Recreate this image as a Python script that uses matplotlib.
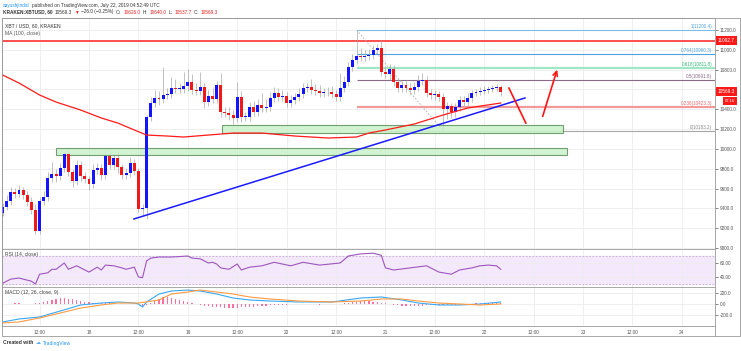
import numpy as np
import matplotlib
matplotlib.use('Agg')
import matplotlib.pyplot as plt
from matplotlib import transforms
from matplotlib.patches import Rectangle

plt.rcParams['font.family'] = ['Liberation Sans', 'DejaVu Sans']

# hourly XBT/USD candles, 17th 03:00 -> 22nd 04:00 (hours relative to 18th 00:00)
first_hour = -21
first_open = 9353
closes = [9414, 9474, 9565, 9545, 9585, 9535, 9464, 9383, 9172, 9474,
          9515, 9706, 9747, 9726, 9807, 9948, 9767, 9676, 9837, 9726,
          9696, 9646, 9787, 9807, 9737, 9928, 9837, 9908, 9817, 9737,
          9757, 9858, 9777, 9394, 9404, 10322, 10463, 10514, 10503, 10544,
          10550, 10614, 10604, 10606, 10635, 10675, 10594, 10584, 10625, 10473,
          10534, 10503, 10645, 10372, 10362, 10342, 10312, 10524, 10322, 10325,
          10423, 10372, 10443, 10413, 10420, 10514, 10564, 10524, 10534, 10463,
          10493, 10524, 10554, 10614, 10625, 10594, 10584, 10564, 10574, 10570,
          10555, 10524, 10614, 10675, 10826, 10897, 10937, 10930, 10940, 10947,
          10998, 11018, 10776, 10756, 10806, 10675, 10614, 10645, 10614, 10594,
          10625, 10685, 10695, 10564, 10544, 10554, 10524, 10402, 10433, 10372,
          10423, 10493, 10473, 10514, 10564, 10574, 10584, 10594, 10604, 10614,
          10626, 10569.3]
upper_wick = [40, 60, 50, 40, 50, 30, 40, 50, 60, 40,
              60, 60, 120, 50, 50, 20, 40, 30, 50, 40,
              40, 30, 60, 50, 40, 40, 50, 40, 60, 30,
              50, 60, 40, 30, 40, 20, 60, 80, 70, 280,
              60, 110, 90, 60, 140, 130, 80, 70, 150, 40,
              60, 80, 40, 120, 50, 60, 50, 150, 60, 50,
              50, 60, 60, 120, 80, 60, 60, 50, 60, 40,
              50, 40, 60, 50, 40, 80, 60, 60, 40, 50,
              60, 40, 150, 60, 50, 60, 263.4, 80, 60, 60,
              50, 40, 81, 60, 50, 40, 40, 40, 40, 50,
              50, 60, 70, 40, 40, 40, 30, 40, 40, 30,
              40, 40, 40, 50, 30, 30, 40, 40, 30, 30, 30, 14]
lower_wick = [30, 30, 40, 40, 30, 40, 40, 40, 30, 30,
              40, 40, 40, 60, 40, 40, 40, 60, 40, 50,
              40, 60, 40, 40, 50, 40, 40, 40, 60, 40,
              40, 40, 40, 30, 70, 110, 40, 40, 60, 40,
              40, 40, 40, 40, 40, 50, 40, 40, 40, 60,
              40, 40, 40, 50, 40, 50, 60, 40, 50, 40,
              40, 40, 40, 40, 40, 40, 40, 40, 40, 40,
              40, 40, 40, 40, 40, 40, 40, 40, 40, 40,
              40, 40, 40, 40, 40, 40, 40, 40, 40, 40,
              40, 40, 40, 40, 60, 40, 40, 40, 40, 40,
              40, 40, 40, 40, 40, 50, 40, 218.8, 100, 60,
              50, 40, 40, 40, 40, 30, 30, 30, 30, 30, 30, 31.6]

# MA(100, close)
ma_hours = [-21, -17, -12, -8, -2, 3, 7, 11, 14, 19, 23, 29, 35, 42, 50, 58, 65, 68, 72, 79, 86, 92, 100]
ma_values = [10746, 10665, 10544, 10473, 10392, 10312, 10261, 10191, 10140, 10130, 10120, 10140,
             10160, 10160, 10130, 10110, 10120, 10160, 10191, 10251, 10342, 10413, 10463]

# RSI(14)
rsi_hours = [-21, -19, -17, -14, -13, -12, -10, -9, -8, -6, -5, -3, -1, 0, 2, 3, 4, 6, 8, 9,
             11, 12, 13, 14, 15, 17, 20, 24, 25, 27, 29, 30, 31, 32, 34, 36, 37, 39,
             42, 45, 49, 52, 56, 61, 63, 66, 69, 71, 72, 74, 78, 82, 85, 88, 90, 93, 95, 97, 99, 100]
rsi_values = [31, 37, 38.5, 34, 30, 44, 46, 51, 51, 60, 51, 56, 50, 47, 54, 50, 57, 56, 53, 51,
              54, 40, 39, 63, 67, 68.5, 68.5, 70, 67, 66, 60, 61, 58.6, 53, 51, 58.6, 50, 54,
              56, 61, 56, 61, 57, 60, 70, 73, 74, 71, 53, 50, 53, 56, 47, 44, 50, 53, 56, 57, 56, 51]

# MACD(12, 26, close, 9)
macd_hours = [-21, -17, -12, -7, -2, 3, 7, 11, 12, 13, 14, 17, 20, 24, 27, 31, 35, 39, 44, 51,
              59, 66, 71, 76, 80, 85, 90, 95, 100]
macd_values = [-313, -261, -226, -122, -17, 17, 35, 17, 0, -52, 35, 174, 226, 243, 226, 174, 104,
               70, 52, 35, 35, 104, 122, 70, 17, -17, -17, 0, 35]
signal_hours = [-21, -17, -12, -7, -2, 3, 7, 12, 17, 20, 24, 27, 31, 35, 39, 44, 51, 59, 66, 71,
                76, 80, 85, 90, 95, 100]
signal_values = [-330, -313, -243, -157, -70, -17, 17, 17, 70, 174, 209, 243, 209, 174, 122, 87,
                 52, 35, 52, 87, 87, 52, 17, 0, -17, 0]
hist_values = [5, 5, 8, 10, 10, 8, 5, 5, 10, 20,
               35, 55, 75, 90, 100, 100, 95, 85, 70, 55, 40, 30,
               25, 20, 18, 15, 12, 10, 8, 5, 5, 3, 0, -5,
               -30, -20,
               20, 55, 90, 115, 120, 110, 95, 75, 55, 30,
               10, -5, -20, -30, -40, -50, -55, -60, -65, -70, -70, -65, -60, -55, -50,
               -45, -40, -35, -30, -25, -20, -15, -12, -10, -8, -5, -3, 0, -3, -5, -8, -10, -8, -5, -2, 3, 8,
               15, 25, 35, 42, 48, 50, 48, 42, 35, 25, 10,
               -5, -15, -25, -30, -35, -35, -35, -30, -30, -25, -25, -25, -20, -20, -20, -15, -15, -10,
               -5, 0, 5, 10, 15, 15, 20, 20, 20, 15]

# drawings
resistance = 11092.7
fib_high, fib_low = 11200.4, 10183.2
fib_start, fib_end = 65, 86
fib_ratios = [1, 0.764, 0.618, 0.5, 0.236, 0]
fib_colors = ['#7cbde6', '#4da3dc', '#9fe6c4', '#8a6a85', '#f29a9a', '#a6a6a6']
fib_text = ['#4da3dc', '#4da3dc', '#30b878', '#8a6a85', '#e06a6a', '#8a8a8a']
trend_line = ([10.9, 105.9], [9293, 10514])
zones = [(32.3, 115.1, 10160, 10241), (-8.0, 116.1, 9938, 10009)]
arrow_down = ([102.0, 106.1], [10614, 10261])
arrow_up = ([110.0, 113.9], [10302, 10826])

xticks = [-12, 0, 12, 24, 36, 48, 60, 72, 84, 96, 108, 120, 132, 144]
xlabels = ['12:00', '18', '12:00', '19', '12:00', '20', '12:00', '21', '12:00', '22', '12:00', '23', '12:00', '24']

W, H = 741, 351
fig = plt.figure(figsize=(W / 100, H / 100), dpi=100)


def px_box(x0, y0, x1, y1):
    return [x0 / W, 1 - y1 / H, (x1 - x0) / W, (y1 - y0) / H]


ax = fig.add_axes(px_box(2, 18, 715, 249))
ax_rsi = fig.add_axes(px_box(2, 249, 715, 287), sharex=ax)
ax_macd = fig.add_axes(px_box(2, 287, 715, 326), sharex=ax)

for a in (ax, ax_rsi, ax_macd):
    a.set_facecolor('white')
    for s in a.spines.values():
        s.set_color('#9a9a9a')
        s.set_linewidth(0.6)
    a.yaxis.tick_right()
    a.tick_params(axis='y', labelsize=3.4, colors='#555555', length=2, pad=1.5, width=0.5)
    a.tick_params(axis='x', length=0, labelbottom=False)
    a.set_xticks(xticks)
    a.grid(True, color='#ececec', lw=0.6)
    a.set_axisbelow(True)
ax.set_xlim(-21.13, 152.05)

# main panel
closes = np.array(closes, dtype=float)
hours = first_hour + np.arange(len(closes))
opens = np.concatenate([[first_open], closes[:-1]])
highs = np.maximum(opens, closes) + np.array(upper_wick)
lows = np.minimum(opens, closes) - np.array(lower_wick)
colors = np.where(closes >= opens, '#1414ff', '#f01818')
ax.vlines(hours, lows, highs, color='#a8a8a8', lw=0.5, zorder=3)
ax.bar(hours, np.maximum(np.abs(closes - opens), 6), bottom=np.minimum(opens, closes),
       width=0.72, color=colors, edgecolor='none', zorder=4)

ax.plot(ma_hours, ma_values, color='#ff1a1a', lw=0.9, zorder=5)
ax.axhline(resistance, color='#ff3b3b', lw=1.4, alpha=0.9, zorder=2)

span = fib_high - fib_low
for r, c, tc in zip(fib_ratios, fib_colors, fib_text):
    lvl = fib_low + r * span
    lw = 1.6 if r in (0.618, 0.236) else 0.8
    ax.hlines(lvl, fib_start, 152.05, color=c, lw=lw, zorder=2)
    lab = f'{r:g}({lvl:.1f})'
    ax.text(151.4, lvl + 12, lab, fontsize=3.3, color=tc, ha='right', va='bottom', zorder=6)
ax.plot([fib_start, fib_end], [fib_high, fib_low], color='#b0b0b0', lw=0.6, ls=(0, (2, 2)), zorder=2)

for x0, x1, y0, y1 in zones:
    ax.add_patch(Rectangle((x0, y0), x1 - x0, y1 - y0, facecolor='#c9f2c9', edgecolor='#5e8f5e',
                           lw=0.8, alpha=0.85, zorder=3))

ax.plot(*trend_line, color='#1a1aff', lw=1.1, zorder=6)
ax.plot(*arrow_down, color='#ff1414', lw=1.2, zorder=6)
ax.annotate('', xy=(arrow_up[0][1], arrow_up[1][1]), xytext=(arrow_up[0][0], arrow_up[1][0]),
            arrowprops=dict(arrowstyle='->', color='#ff1414', lw=1.2, mutation_scale=8), zorder=6)

ax.set_ylim(8990, 11321)
ax.set_yticks(np.arange(9000, 11201, 200))
# the 10600 label sits under the last-price box, as on the original
ax.yaxis.set_major_formatter(plt.FuncFormatter(lambda v, p: '' if abs(v - 10600) < 1 else f'{v:.1f}'))

blend = transforms.blended_transform_factory(ax.transAxes, ax.transData)
box = dict(boxstyle='square,pad=0.4', facecolor='#ff1a1a', edgecolor='none')
ax.text(1.004, resistance, f'{resistance:.1f}', transform=blend, fontsize=3.4, color='white',
        va='center', ha='left', bbox=box, zorder=10, clip_on=False)
ax.annotate(f'{closes[-1]:.1f}', xy=(1.0, closes[-1]), xycoords=blend, xytext=(3, 1), textcoords='offset pixels',
            fontsize=3.4, color='white', va='center', ha='left', bbox=box, annotation_clip=False, zorder=10)
ax.annotate('07:16', xy=(1.0, closes[-1]), xycoords=blend, xytext=(10, -8.5), textcoords='offset pixels',
            fontsize=3.0, color='white', va='center', ha='left', bbox=box, annotation_clip=False, zorder=10)

ax.text(0.004, 0.975, 'XBT / USD, 60, KRAKEN', transform=ax.transAxes, fontsize=3.6, color='#333333', va='top')
ax.text(0.004, 0.945, 'MA (100, close)', transform=ax.transAxes, fontsize=3.6, color='#555555', va='top')

# RSI panel
ax_rsi.axhspan(30, 70, color='#f4e8fc', zorder=0)
for lvl in (30, 70):
    ax_rsi.axhline(lvl, color='#bcaecb', lw=0.6, ls=(0, (2, 2)), zorder=1)
ax_rsi.plot(rsi_hours, rsi_values, color='#9d55bf', lw=0.8, zorder=3)
ax_rsi.set_ylim(25.7, 80)
ax_rsi.set_yticks([40, 60])
ax_rsi.yaxis.set_major_formatter(plt.FormatStrFormatter('%.2f'))
ax_rsi.text(0.004, 0.93, 'RSI (14, close)', transform=ax_rsi.transAxes, fontsize=3.6, color='#444444', va='top')

# MACD panel
ax_macd.bar(hours, hist_values, width=0.3, color='#ff6f9c', zorder=2)
ax_macd.plot(macd_hours, macd_values, color='#38a8f2', lw=0.8, zorder=3)
ax_macd.plot(signal_hours, signal_values, color='#ff9a40', lw=0.8, zorder=3)
ax_macd.set_ylim(-383, 296)
ax_macd.set_yticks([-200, 0, 200])
ax_macd.yaxis.set_major_formatter(plt.FormatStrFormatter('%.1f'))
ax_macd.text(0.004, 0.93, 'MACD (12, 26, close, 9)', transform=ax_macd.transAxes, fontsize=3.6,
             color='#444444', va='top')
ax_macd.tick_params(axis='x', labelbottom=True, labelsize=3.4, colors='#555555', pad=3)
ax_macd.set_xticklabels(xlabels)

# outer frame and axis strip
fig.add_artist(Rectangle((2 / W, 1 - 336 / H), 738 / W, 318 / H, transform=fig.transFigure,
                         fill=False, edgecolor='#9a9a9a', lw=0.6))
fig.add_artist(plt.Line2D([715 / W, 715 / W], [1 - 336 / H, 1 - 326 / H], transform=fig.transFigure,
                          color='#9a9a9a', lw=0.6))

# header and footer text, chained piece by piece
renderer = fig.canvas.get_renderer()


def chain(px, py, parts, size=3.4):
    x = px / W
    for s, c, w in parts:
        t = fig.text(x, 1 - py / H, s, color=c, fontsize=size, fontweight=w, va='center', ha='left')
        bb = t.get_window_extent(renderer=renderer)
        x = (bb.x1 + 2.2) / W


dark = '#333333'
red = '#f02020'
chain(3, 5, [('aayushjindal', '#2196f3', 'normal'),
             ('published on TradingView.com, July 22, 2019 04:52:49 UTC', dark, 'normal')])
chain(3, 12, [('KRAKEN:XBTUSD, 60', dark, 'bold'), ('10569.3', dark, 'normal'), ('\u25bc', red, 'normal'),
              ('\u221226.0 (\u22120.25%)', dark, 'normal'), ('O:', dark, 'normal'), ('10626.0', red, 'normal'),
              ('H:', dark, 'normal'), ('10640.0', red, 'normal'), ('L:', dark, 'normal'),
              ('10537.7', red, 'normal'), ('C:', dark, 'normal'), ('10569.3', red, 'normal')])
chain(3, 343, [('Created with', dark, 'bold'), ('\u2601', '#55b4f0', 'normal'), ('TradingView', '#2196f3', 'normal')],
      size=3.6)

fig.savefig('out.png', dpi=100)
